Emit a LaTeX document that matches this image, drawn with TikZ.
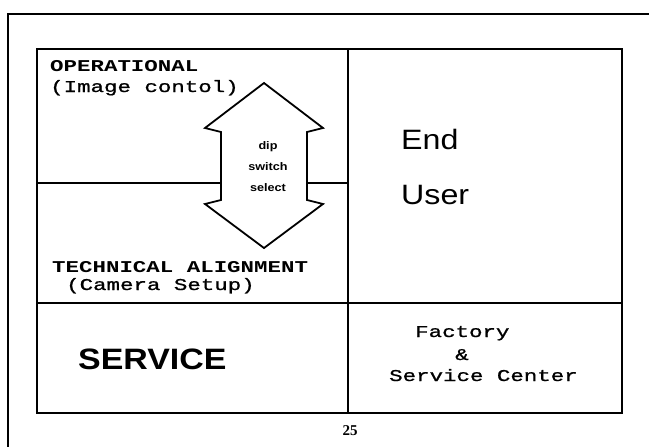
\documentclass[tikz,border=0pt]{standalone}
\usepackage{fontspec}
\newfontfamily\courfont[FakeStretch=1.36, UprightFeatures={FakeBold=1}]{Liberation Mono}
\newfontfamily\helvfont[FakeStretch=1.15]{Liberation Sans}
\newfontfamily\timesfont{Liberation Serif}

\begin{document}
\begin{tikzpicture}[x=1pt,y=-1pt]

\tikzstyle{frame} = [draw=black, line width=1.5pt]
\tikzstyle{grid} = [draw=black, line width=2.2pt]
\tikzstyle{monotext} = [inner sep=0pt, anchor=base west, font=\courfont\fontsize{16.5}{16.5}\selectfont]
\tikzstyle{bigtext} = [inner sep=0pt, anchor=base west, font=\helvfont\fontsize{28}{28}\selectfont]

\useasboundingbox (0,0) rectangle (649,447);

% page frame, only left and top edge are on the sheet
\draw[frame] (8,447) -- (8,14) -- (649,14);

\coordinate (anchor) at (37,49);

%Grid: corners and dividers

\path (anchor)+(585,364) coordinate (box_se);
\path (anchor)+(311,0) coordinate (mid_n);
\path (anchor)+(311,364) coordinate (mid_s);
\path (anchor)+(0,254) coordinate (row_w);
\path (anchor)+(585,254) coordinate (row_e);
\path (anchor)+(0,134) coordinate (split_w);
\path (anchor)+(311,134) coordinate (split_e);

\draw[grid] (anchor) rectangle (box_se);
\draw[grid] (mid_n) -- (mid_s);
\draw[grid] (row_w) -- (row_e);

%Dip switch arrow: left column

\path (anchor)+(227,117) coordinate (arrow_c);
\path (arrow_c)+(-43,17) coordinate (shaft_w);
\path (arrow_c)+(43,17) coordinate (shaft_e);

\draw[grid, line width=1.8pt, line join=miter] (arrow_c)
  +(0,-83) -- +(59,-38) -- +(43,-34) -- +(43,34) -- +(59,38)
  -- +(0,82) -- +(-59,38) -- +(-43,34) -- +(-43,-34) -- +(-59,-38) -- cycle;

\draw[grid] (split_w) -- (shaft_w);
\draw[grid] (shaft_e) -- (split_e);

\path (arrow_c)+(4,1) node (dip) [align=center, inner sep=0pt,
  font=\helvfont\bfseries\fontsize{11}{21}\selectfont] {dip\\switch\\select};

%Operational: top left

\path (anchor)+(13,22) node (operational) [monotext] {\bfseries OPERATIONAL};
\path (operational.base west)+(0,21) node (image_control) [monotext] {(Image contol)};

%Technical alignment: middle left

\path (anchor)+(15,223) node (technical) [monotext] {\bfseries TECHNICAL ALIGNMENT};
\path (technical.base west)+(14,18) node (camera_setup) [monotext] {(Camera Setup)};

%End user: top right

\path (anchor)+(364,100) node (end) [bigtext] {End};
\path (end.base west)+(0,55) node (user) [bigtext] {User};

%Service: bottom row

\path (anchor)+(41,320) node (service) [bigtext, font=\helvfont\bfseries\fontsize{29.5}{29.5}\selectfont] {SERVICE};

\path (anchor)+(378,288) node (factory) [monotext] {Factory};
\path (anchor)+(418,311) node (amp) [monotext] {\&};
\path (anchor)+(352,332) node (service_center) [monotext] {Service Center};

% page number
\path (mid_s)+(2,22) node (page_no) [inner sep=0pt, anchor=base,
  font=\timesfont\bfseries\fontsize{15}{15}\selectfont] {25};

\end{tikzpicture}
\end{document}
